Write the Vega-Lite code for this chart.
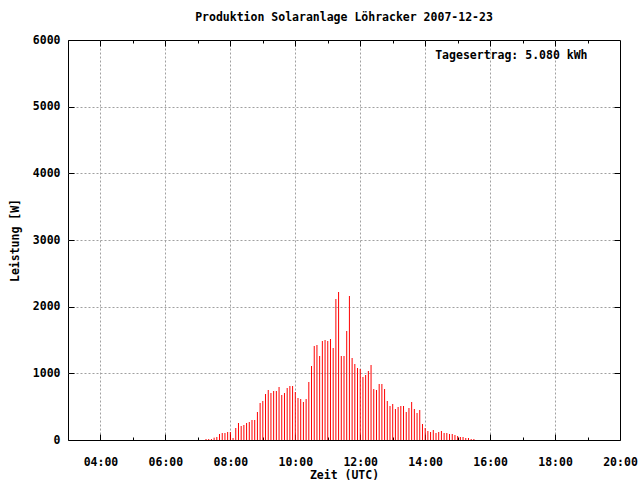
{
  "$schema": "https://vega.github.io/schema/vega-lite/v6.json",
  "autosize": {"type": "none"},
  "width": 552,
  "height": 400,
  "padding": {"left": 68, "top": 40, "right": 20, "bottom": 40},
  "background": "white",
  "config": {
    "view": {"stroke": "black", "strokeWidth": 1},
    "font": "DejaVu Sans Mono",
    "axis": {
      "labelFont": "DejaVu Sans Mono", "labelFontWeight": "bold", "labelFontSize": 11.5, "labelColor": "black",
      "titleFont": "DejaVu Sans Mono", "titleFontWeight": "bold", "titleFontSize": 11.5, "titleColor": "black",
      "tickColor": "black", "domain": false,
      "gridColor": "#a0a0a0", "gridDash": [2, 2], "gridWidth": 1
    }
  },
  "title": {"text": "Produktion Solaranlage Löhracker 2007-12-23", "font": "DejaVu Sans Mono", "fontWeight": "bold", "fontSize": 11.5, "color": "black", "anchor": "middle", "offset": 11},
  "datasets": {
    "power": [
      {"time": "2007-12-23T07:15:00Z", "power": 15},
      {"time": "2007-12-23T07:20:00Z", "power": 15},
      {"time": "2007-12-23T07:25:00Z", "power": 15},
      {"time": "2007-12-23T07:30:00Z", "power": 35},
      {"time": "2007-12-23T07:35:00Z", "power": 45},
      {"time": "2007-12-23T07:40:00Z", "power": 90},
      {"time": "2007-12-23T07:45:00Z", "power": 105},
      {"time": "2007-12-23T07:50:00Z", "power": 105},
      {"time": "2007-12-23T07:55:00Z", "power": 120},
      {"time": "2007-12-23T08:00:00Z", "power": 120},
      {"time": "2007-12-23T08:05:00Z", "power": 30},
      {"time": "2007-12-23T08:10:00Z", "power": 180},
      {"time": "2007-12-23T08:15:00Z", "power": 255},
      {"time": "2007-12-23T08:20:00Z", "power": 210},
      {"time": "2007-12-23T08:25:00Z", "power": 225},
      {"time": "2007-12-23T08:30:00Z", "power": 255},
      {"time": "2007-12-23T08:35:00Z", "power": 270},
      {"time": "2007-12-23T08:40:00Z", "power": 300},
      {"time": "2007-12-23T08:45:00Z", "power": 300},
      {"time": "2007-12-23T08:50:00Z", "power": 420},
      {"time": "2007-12-23T08:55:00Z", "power": 555},
      {"time": "2007-12-23T09:00:00Z", "power": 585},
      {"time": "2007-12-23T09:05:00Z", "power": 690},
      {"time": "2007-12-23T09:10:00Z", "power": 750},
      {"time": "2007-12-23T09:15:00Z", "power": 705},
      {"time": "2007-12-23T09:20:00Z", "power": 735},
      {"time": "2007-12-23T09:25:00Z", "power": 735},
      {"time": "2007-12-23T09:30:00Z", "power": 795},
      {"time": "2007-12-23T09:35:00Z", "power": 675},
      {"time": "2007-12-23T09:40:00Z", "power": 705},
      {"time": "2007-12-23T09:45:00Z", "power": 780},
      {"time": "2007-12-23T09:50:00Z", "power": 810},
      {"time": "2007-12-23T09:55:00Z", "power": 810},
      {"time": "2007-12-23T10:00:00Z", "power": 720},
      {"time": "2007-12-23T10:05:00Z", "power": 630},
      {"time": "2007-12-23T10:10:00Z", "power": 615},
      {"time": "2007-12-23T10:15:00Z", "power": 570},
      {"time": "2007-12-23T10:20:00Z", "power": 615},
      {"time": "2007-12-23T10:25:00Z", "power": 870},
      {"time": "2007-12-23T10:30:00Z", "power": 1110},
      {"time": "2007-12-23T10:35:00Z", "power": 1410},
      {"time": "2007-12-23T10:40:00Z", "power": 1425},
      {"time": "2007-12-23T10:45:00Z", "power": 1260},
      {"time": "2007-12-23T10:50:00Z", "power": 1485},
      {"time": "2007-12-23T10:55:00Z", "power": 1500},
      {"time": "2007-12-23T11:00:00Z", "power": 1485},
      {"time": "2007-12-23T11:05:00Z", "power": 1515},
      {"time": "2007-12-23T11:10:00Z", "power": 1380},
      {"time": "2007-12-23T11:15:00Z", "power": 2115},
      {"time": "2007-12-23T11:20:00Z", "power": 2220},
      {"time": "2007-12-23T11:25:00Z", "power": 1260},
      {"time": "2007-12-23T11:30:00Z", "power": 1260},
      {"time": "2007-12-23T11:35:00Z", "power": 1635},
      {"time": "2007-12-23T11:40:00Z", "power": 2160},
      {"time": "2007-12-23T11:45:00Z", "power": 1230},
      {"time": "2007-12-23T11:50:00Z", "power": 1140},
      {"time": "2007-12-23T11:55:00Z", "power": 1080},
      {"time": "2007-12-23T12:00:00Z", "power": 1065},
      {"time": "2007-12-23T12:05:00Z", "power": 945},
      {"time": "2007-12-23T12:10:00Z", "power": 975},
      {"time": "2007-12-23T12:15:00Z", "power": 1035},
      {"time": "2007-12-23T12:20:00Z", "power": 1125},
      {"time": "2007-12-23T12:25:00Z", "power": 765},
      {"time": "2007-12-23T12:30:00Z", "power": 750},
      {"time": "2007-12-23T12:35:00Z", "power": 840},
      {"time": "2007-12-23T12:40:00Z", "power": 840},
      {"time": "2007-12-23T12:45:00Z", "power": 765},
      {"time": "2007-12-23T12:50:00Z", "power": 585},
      {"time": "2007-12-23T12:55:00Z", "power": 510},
      {"time": "2007-12-23T13:00:00Z", "power": 540},
      {"time": "2007-12-23T13:05:00Z", "power": 465},
      {"time": "2007-12-23T13:10:00Z", "power": 495},
      {"time": "2007-12-23T13:15:00Z", "power": 510},
      {"time": "2007-12-23T13:20:00Z", "power": 510},
      {"time": "2007-12-23T13:25:00Z", "power": 420},
      {"time": "2007-12-23T13:30:00Z", "power": 480},
      {"time": "2007-12-23T13:35:00Z", "power": 570},
      {"time": "2007-12-23T13:40:00Z", "power": 465},
      {"time": "2007-12-23T13:45:00Z", "power": 405},
      {"time": "2007-12-23T13:50:00Z", "power": 450},
      {"time": "2007-12-23T13:55:00Z", "power": 240},
      {"time": "2007-12-23T14:00:00Z", "power": 180},
      {"time": "2007-12-23T14:05:00Z", "power": 135},
      {"time": "2007-12-23T14:10:00Z", "power": 120},
      {"time": "2007-12-23T14:15:00Z", "power": 150},
      {"time": "2007-12-23T14:20:00Z", "power": 105},
      {"time": "2007-12-23T14:25:00Z", "power": 120},
      {"time": "2007-12-23T14:30:00Z", "power": 135},
      {"time": "2007-12-23T14:35:00Z", "power": 105},
      {"time": "2007-12-23T14:40:00Z", "power": 105},
      {"time": "2007-12-23T14:45:00Z", "power": 90},
      {"time": "2007-12-23T14:50:00Z", "power": 90},
      {"time": "2007-12-23T14:55:00Z", "power": 75},
      {"time": "2007-12-23T15:00:00Z", "power": 60},
      {"time": "2007-12-23T15:05:00Z", "power": 45},
      {"time": "2007-12-23T15:10:00Z", "power": 45},
      {"time": "2007-12-23T15:15:00Z", "power": 30},
      {"time": "2007-12-23T15:20:00Z", "power": 30},
      {"time": "2007-12-23T15:25:00Z", "power": 15},
      {"time": "2007-12-23T15:30:00Z", "power": 15}
    ],
    "note": [
      {"time": "2007-12-23T19:00:00Z", "power": 5760, "label": "Tagesertrag: 5.080 kWh"}
    ]
  },
  "layer": [
    {
      "data": {"name": "power"},
      "mark": {"type": "rule", "color": "#ff0000", "strokeWidth": 1},
      "encoding": {
        "x": {
          "field": "time", "type": "temporal",
          "scale": {"type": "utc", "domain": [
            {"year": 2007, "month": 12, "date": 23, "hours": 3, "utc": true},
            {"year": 2007, "month": 12, "date": 23, "hours": 20, "utc": true}
          ]},
          "axis": {
            "orient": "bottom",
            "title": "Zeit (UTC)",
            "titleY": 29,
            "titleBaseline": "top",
            "format": "%H:%M",
            "values": [
              {"year": 2007, "month": 12, "date": 23, "hours": 4, "utc": true},
              {"year": 2007, "month": 12, "date": 23, "hours": 5, "utc": true},
              {"year": 2007, "month": 12, "date": 23, "hours": 6, "utc": true},
              {"year": 2007, "month": 12, "date": 23, "hours": 7, "utc": true},
              {"year": 2007, "month": 12, "date": 23, "hours": 8, "utc": true},
              {"year": 2007, "month": 12, "date": 23, "hours": 9, "utc": true},
              {"year": 2007, "month": 12, "date": 23, "hours": 10, "utc": true},
              {"year": 2007, "month": 12, "date": 23, "hours": 11, "utc": true},
              {"year": 2007, "month": 12, "date": 23, "hours": 12, "utc": true},
              {"year": 2007, "month": 12, "date": 23, "hours": 13, "utc": true},
              {"year": 2007, "month": 12, "date": 23, "hours": 14, "utc": true},
              {"year": 2007, "month": 12, "date": 23, "hours": 15, "utc": true},
              {"year": 2007, "month": 12, "date": 23, "hours": 16, "utc": true},
              {"year": 2007, "month": 12, "date": 23, "hours": 17, "utc": true},
              {"year": 2007, "month": 12, "date": 23, "hours": 18, "utc": true},
              {"year": 2007, "month": 12, "date": 23, "hours": 19, "utc": true},
              {"year": 2007, "month": 12, "date": 23, "hours": 20, "utc": true}
            ],
            "labelExpr": "utchours(datum.value) % 2 == 0 ? datum.label : ''",
            "labelPadding": 22,
            "labelFlush": false,
            "labelOverlap": false,
            "tickSize": {"condition": {"test": "utchours(datum.value) % 2 == 0", "value": -6}, "value": -3},
            "grid": true,
            "gridOpacity": {"condition": {"test": "utchours(datum.value) % 2 == 0 && utchours(datum.value) < 20", "value": 1}, "value": 0}
          }
        },
        "y": {
          "field": "power", "type": "quantitative",
          "scale": {"domain": [0, 6000], "nice": false},
          "axis": {
            "orient": "left",
            "title": "Leistung [W]",
            "titlePadding": 12,
            "values": [0, 1000, 2000, 3000, 4000, 5000, 6000],
            "format": "d",
            "labelPadding": 14,
            "labelFlush": false,
            "tickSize": -6,
            "grid": true,
            "gridOpacity": {"condition": {"test": "datum.value > 0 && datum.value < 6000", "value": 1}, "value": 0}
          }
        },
        "y2": {"datum": 0}
      }
    },
    {
      "data": {"name": "note"},
      "mark": {"type": "text", "align": "right", "baseline": "middle", "font": "DejaVu Sans Mono", "fontWeight": "bold", "fontSize": 11.5, "color": "black"},
      "encoding": {
        "x": {
          "field": "time", "type": "temporal",
          "scale": {"type": "utc", "domain": [
            {"year": 2007, "month": 12, "date": 23, "hours": 3, "utc": true},
            {"year": 2007, "month": 12, "date": 23, "hours": 20, "utc": true}
          ]},
          "axis": {
            "orient": "top", "title": null, "labels": false, "grid": false,
            "values": [
              {"year": 2007, "month": 12, "date": 23, "hours": 4, "utc": true},
              {"year": 2007, "month": 12, "date": 23, "hours": 5, "utc": true},
              {"year": 2007, "month": 12, "date": 23, "hours": 6, "utc": true},
              {"year": 2007, "month": 12, "date": 23, "hours": 7, "utc": true},
              {"year": 2007, "month": 12, "date": 23, "hours": 8, "utc": true},
              {"year": 2007, "month": 12, "date": 23, "hours": 9, "utc": true},
              {"year": 2007, "month": 12, "date": 23, "hours": 10, "utc": true},
              {"year": 2007, "month": 12, "date": 23, "hours": 11, "utc": true},
              {"year": 2007, "month": 12, "date": 23, "hours": 12, "utc": true},
              {"year": 2007, "month": 12, "date": 23, "hours": 13, "utc": true},
              {"year": 2007, "month": 12, "date": 23, "hours": 14, "utc": true},
              {"year": 2007, "month": 12, "date": 23, "hours": 15, "utc": true},
              {"year": 2007, "month": 12, "date": 23, "hours": 16, "utc": true},
              {"year": 2007, "month": 12, "date": 23, "hours": 17, "utc": true},
              {"year": 2007, "month": 12, "date": 23, "hours": 18, "utc": true},
              {"year": 2007, "month": 12, "date": 23, "hours": 19, "utc": true}
            ],
            "tickSize": {"condition": {"test": "utchours(datum.value) % 2 == 0", "value": -6}, "value": -3}
          }
        },
        "y": {
          "field": "power", "type": "quantitative",
          "scale": {"domain": [0, 6000], "nice": false},
          "axis": {
            "orient": "right", "title": null, "labels": false, "grid": false,
            "values": [1000, 2000, 3000, 4000, 5000],
            "tickSize": -6
          }
        },
        "text": {"field": "label"}
      }
    }
  ],
  "resolve": {"axis": {"x": "independent", "y": "independent"}}
}
